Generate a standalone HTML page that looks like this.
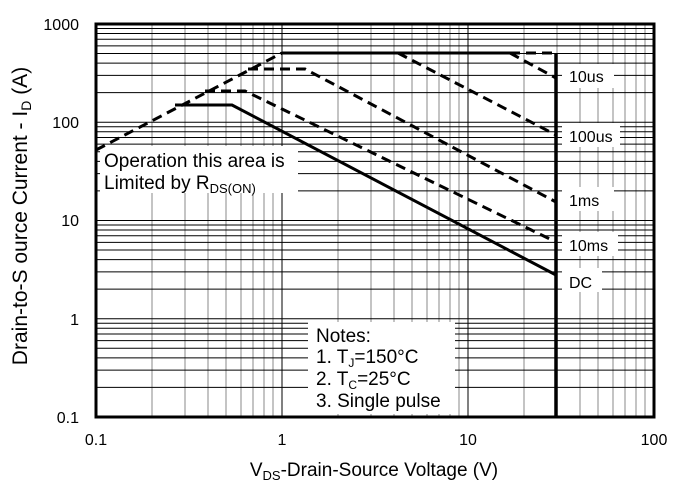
<!DOCTYPE html>
<html><head><meta charset="utf-8"><style>
body{margin:0;background:#fff}
svg{display:block;font-family:"Liberation Sans",Arial,sans-serif}
</style></head><body>
<svg width="680" height="485" viewBox="0 0 680 485">
<defs>
<g id="vd" stroke="#888" stroke-width="1">
<line x1="56" y1="24" x2="56" y2="417"/><line x1="89" y1="24" x2="89" y2="417"/>
<line x1="112" y1="24" x2="112" y2="417"/><line x1="130" y1="24" x2="130" y2="417"/>
<line x1="145" y1="24" x2="145" y2="417"/><line x1="157" y1="24" x2="157" y2="417"/>
<line x1="168" y1="24" x2="168" y2="417"/><line x1="177" y1="24" x2="177" y2="417"/>
<line x1="186" y1="24" x2="186" y2="417" stroke="#000"/>
</g>
<g id="hd" stroke="#000" stroke-width="1">
<line x1="96" y1="-29.6" x2="654" y2="-29.6"/><line x1="96" y1="-46.9" x2="654" y2="-46.9"/>
<line x1="96" y1="-59.1" x2="654" y2="-59.1"/><line x1="96" y1="-68.7" x2="654" y2="-68.7"/>
<line x1="96" y1="-76.4" x2="654" y2="-76.4"/><line x1="96" y1="-83" x2="654" y2="-83"/>
<line x1="96" y1="-88.7" x2="654" y2="-88.7"/><line x1="96" y1="-93.8" x2="654" y2="-93.8"/>
<line x1="96" y1="-98.25" x2="654" y2="-98.25"/>
</g>
</defs>
<use href="#vd" transform="translate(96,0)"/>
<use href="#vd" transform="translate(282,0)"/>
<use href="#vd" transform="translate(468,0)"/>
<use href="#hd" transform="translate(0,417)"/>
<use href="#hd" transform="translate(0,318.75)"/>
<use href="#hd" transform="translate(0,220.5)"/>
<use href="#hd" transform="translate(0,122.25)"/>
<g fill="#fff">
<rect x="100" y="146" width="198" height="47"/>
<rect x="308" y="322" width="147" height="92"/>
<rect x="562" y="64" width="52" height="24"/>
<rect x="562" y="123" width="58" height="24"/>
<rect x="562" y="187" width="52" height="24"/>
<rect x="562" y="232" width="56" height="24"/>
<rect x="562" y="268" width="40" height="24"/>
</g>
<rect x="96" y="24" width="558" height="393" fill="none" stroke="#000" stroke-width="3"/>
<g fill="none" stroke="#000" stroke-width="3">
<polyline points="282,53 510,53"/>
<line x1="556" y1="53" x2="556" y2="417" stroke-width="3.5"/>
<polyline points="175,105 232,105 556,275"/>
</g>
<g fill="none" stroke="#000" stroke-width="3" stroke-dasharray="10,6">
<polyline points="96,150 282,53"/>
<polyline points="510,53 556,53 556,66"/>
<polyline points="510,53 556,78"/>
<polyline points="398,53 556,135"/>
<polyline points="248,69 305,69 556,202"/>
<polyline points="205,91 245,91 556,242"/>
</g>
<g font-size="19" fill="#000">
<text x="104" y="167">Operation this area is</text>
<text x="104" y="189">Limited  by R<tspan font-size="13" dy="4">DS(ON)</tspan></text>
<text x="316" y="342">Notes:</text>
<text x="316" y="363">1. T<tspan font-size="12" dy="4">J</tspan><tspan dy="-4">=150°C</tspan></text>
<text x="316" y="385">2. T<tspan font-size="12" dy="4">C</tspan><tspan dy="-4">=25°C</tspan></text>
<text x="316" y="407">3. Single pulse</text>
</g>
<g font-size="16">
<text x="569" y="82">10us</text>
<text x="569" y="142">100us</text>
<text x="569" y="206">1ms</text>
<text x="569" y="251">10ms</text>
<text x="569" y="288">DC</text>
</g>
<g font-size="16" text-anchor="end">
<text x="79" y="30">1000</text>
<text x="79" y="128">100</text>
<text x="79" y="226">10</text>
<text x="79" y="325">1</text>
<text x="79" y="423">0.1</text>
</g>
<g font-size="16" text-anchor="middle">
<text x="96" y="445">0.1</text>
<text x="282" y="445">1</text>
<text x="468" y="445">10</text>
<text x="654" y="445">100</text>
</g>
<text x="374" y="476" font-size="19" text-anchor="middle">V<tspan font-size="13" dy="4">DS</tspan><tspan dy="-4">-Drain-Source Voltage (V)</tspan></text>
<text transform="translate(27,216) rotate(-90)" font-size="21" text-anchor="middle">Drain-to-S ource Current - I<tspan font-size="14" dy="4">D</tspan><tspan dy="-4"> (A)</tspan></text>
</svg>
</body></html>
